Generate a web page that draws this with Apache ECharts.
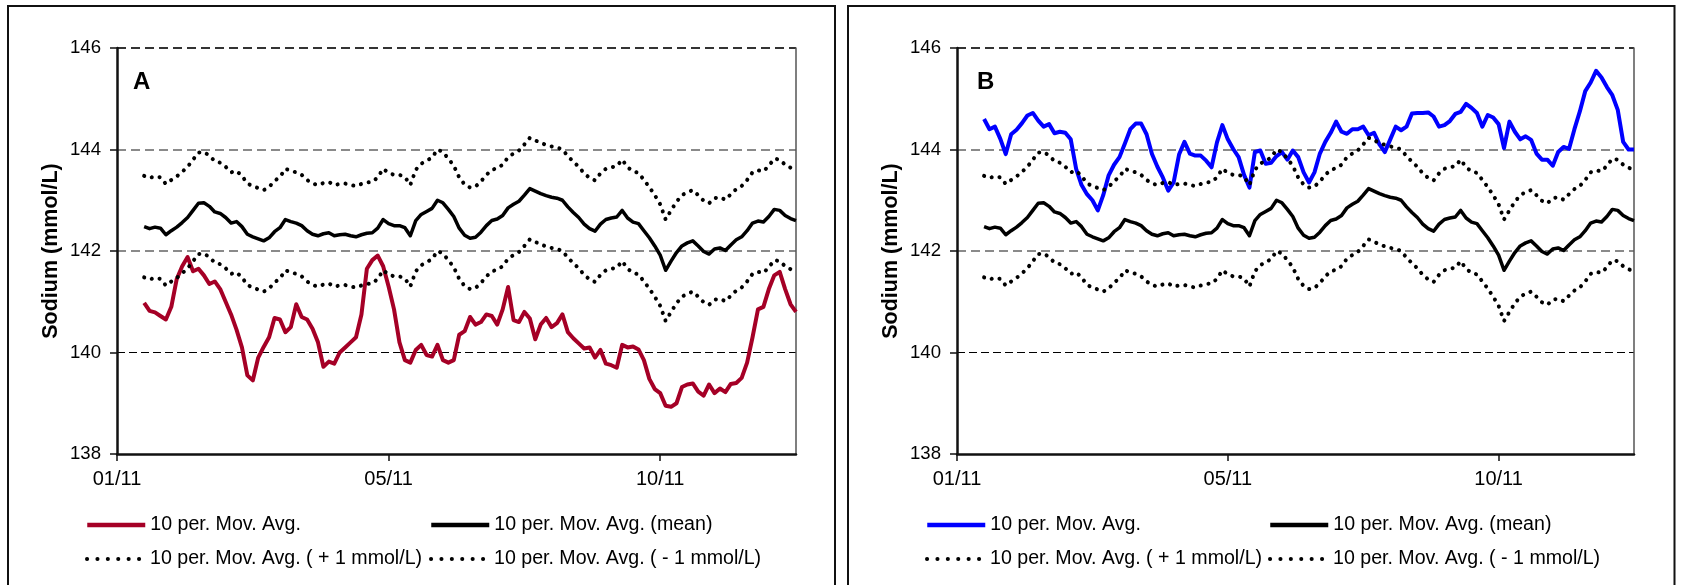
<!DOCTYPE html>
<html>
<head>
<meta charset="utf-8">
<script src="https://cdn.jsdelivr.net/npm/echarts@6/dist/echarts.min.js"></script>
<style>
html, body { margin: 0; padding: 0; background: #ffffff; }
#chart { width: 1681px; height: 585px; }
</style>
</head>
<body>
<div id="chart"></div>
<script>
// ---------- data ----------
const sampleCount = 126;
const categories = Array.from({ length: sampleCount }, (_, i) => 'S' + i);
const xTickLabels = { 0: '01/11', 50: '05/11', 100: '10/11' };
const yMin = 138, yMax = 146, yStep = 2;

const legendLabels = [
  '10 per. Mov. Avg.',
  '10 per. Mov. Avg. (mean)',
  '10 per. Mov. Avg. ( + 1 mmol/L)',
  '10 per. Mov. Avg. ( - 1 mmol/L)'
];
const panelLetters = ['A', 'B'];
const yTitle = 'Sodium (mmol/L)';

const meanValues = [null, null, null, null, null,
  142.48, 142.44, 142.47, 142.45, 142.32, 142.40, 142.47, 142.56, 142.66, 142.80,
  142.94, 142.95, 142.88, 142.77, 142.74, 142.66, 142.55, 142.58, 142.48, 142.33,
  142.28, 142.24, 142.20, 142.26, 142.38, 142.46, 142.62, 142.58, 142.55, 142.50,
  142.40, 142.33, 142.30, 142.34, 142.36, 142.30, 142.32, 142.33, 142.30, 142.28,
  142.32, 142.35, 142.36, 142.45, 142.62, 142.54, 142.50, 142.50, 142.46, 142.30,
  142.60, 142.72, 142.78, 142.84, 143.00, 142.95, 142.82, 142.68, 142.45, 142.31,
  142.25, 142.27, 142.37, 142.50, 142.60, 142.63, 142.70, 142.85, 142.92, 142.98,
  143.10, 143.23, 143.18, 143.13, 143.09, 143.06, 143.04, 143.00, 142.87, 142.76,
  142.66, 142.53, 142.44, 142.39, 142.53, 142.62, 142.65, 142.67, 142.80, 142.65,
  142.57, 142.54, 142.40, 142.26, 142.10, 141.92, 141.62, 141.80, 141.97, 142.10,
  142.16, 142.20, 142.10, 141.99, 141.94, 142.04, 142.06, 142.01, 142.12, 142.22,
  142.28, 142.40, 142.55, 142.59, 142.57, 142.68, 142.82, 142.80, 142.70, 142.64, 142.60];

const plusValues = [null, null, null, null, null,
  143.48, 143.44, 143.47, 143.45, 143.32, 143.40, 143.47, 143.56, 143.66, 143.80,
  143.94, 143.95, 143.88, 143.77, 143.74, 143.66, 143.55, 143.58, 143.48, 143.33,
  143.28, 143.24, 143.20, 143.26, 143.38, 143.46, 143.62, 143.58, 143.55, 143.50,
  143.40, 143.33, 143.30, 143.34, 143.36, 143.30, 143.32, 143.33, 143.30, 143.28,
  143.32, 143.35, 143.36, 143.45, 143.62, 143.54, 143.50, 143.50, 143.46, 143.30,
  143.60, 143.72, 143.78, 143.84, 144.00, 143.95, 143.82, 143.68, 143.45, 143.31,
  143.25, 143.27, 143.37, 143.50, 143.60, 143.63, 143.70, 143.85, 143.92, 143.98,
  144.10, 144.23, 144.18, 144.13, 144.09, 144.06, 144.04, 144.00, 143.87, 143.76,
  143.66, 143.53, 143.44, 143.39, 143.53, 143.62, 143.65, 143.67, 143.80, 143.65,
  143.57, 143.54, 143.40, 143.26, 143.10, 142.92, 142.62, 142.80, 142.97, 143.10,
  143.16, 143.20, 143.10, 142.99, 142.94, 143.04, 143.06, 143.01, 143.12, 143.22,
  143.28, 143.40, 143.55, 143.59, 143.57, 143.68, 143.82, 143.80, 143.70, 143.64, 143.60];

const minusValues = [null, null, null, null, null,
  141.48, 141.44, 141.47, 141.45, 141.32, 141.40, 141.47, 141.56, 141.66, 141.80,
  141.94, 141.95, 141.88, 141.77, 141.74, 141.66, 141.55, 141.58, 141.48, 141.33,
  141.28, 141.24, 141.20, 141.26, 141.38, 141.46, 141.62, 141.58, 141.55, 141.50,
  141.40, 141.33, 141.30, 141.34, 141.36, 141.30, 141.32, 141.33, 141.30, 141.28,
  141.32, 141.35, 141.36, 141.45, 141.62, 141.54, 141.50, 141.50, 141.46, 141.30,
  141.60, 141.72, 141.78, 141.84, 142.00, 141.95, 141.82, 141.68, 141.45, 141.31,
  141.25, 141.27, 141.37, 141.50, 141.60, 141.63, 141.70, 141.85, 141.92, 141.98,
  142.10, 142.23, 142.18, 142.13, 142.09, 142.06, 142.04, 142.00, 141.87, 141.76,
  141.66, 141.53, 141.44, 141.39, 141.53, 141.62, 141.65, 141.67, 141.80, 141.65,
  141.57, 141.54, 141.40, 141.26, 141.10, 140.92, 140.62, 140.80, 140.97, 141.10,
  141.16, 141.20, 141.10, 140.99, 140.94, 141.04, 141.06, 141.01, 141.12, 141.22,
  141.28, 141.40, 141.55, 141.59, 141.57, 141.68, 141.82, 141.80, 141.70, 141.64, 141.60];

const avgA = [null, null, null, null, null,
  140.98, 140.82, 140.79, 140.72, 140.65, 140.90, 141.45, 141.70, 141.88, 141.60,
  141.65, 141.52, 141.35, 141.40, 141.25, 141.00, 140.75, 140.45, 140.10, 139.55,
  139.45, 139.90, 140.11, 140.30, 140.68, 140.65, 140.40, 140.50, 140.95, 140.70,
  140.65, 140.47, 140.20, 139.72, 139.82, 139.78, 140.00, 140.10, 140.20, 140.30,
  140.75, 141.65, 141.82, 141.91, 141.70, 141.30, 140.85, 140.20, 139.85, 139.80,
  140.05, 140.15, 139.95, 139.92, 140.15, 139.85, 139.80, 139.85, 140.35, 140.42,
  140.70, 140.55, 140.60, 140.75, 140.72, 140.55, 140.85, 141.29, 140.64, 140.60,
  140.80, 140.67, 140.26, 140.55, 140.68, 140.50, 140.58, 140.75, 140.40, 140.28,
  140.18, 140.08, 140.10, 139.90, 140.05, 139.78, 139.75, 139.70, 140.15, 140.10,
  140.12, 140.06, 139.85, 139.48, 139.28, 139.20, 138.95, 138.93, 139.00, 139.32,
  139.37, 139.39, 139.23, 139.15, 139.37, 139.20, 139.29, 139.22, 139.38, 139.40,
  139.50, 139.80, 140.30, 140.85, 140.90, 141.25, 141.52, 141.59, 141.25, 140.95, 140.80];

const avgB = [null, null, null, null, null,
  144.60, 144.40, 144.45, 144.21, 143.91, 144.30, 144.39, 144.52, 144.67, 144.72,
  144.57, 144.45, 144.50, 144.32, 144.35, 144.33, 144.20, 143.62, 143.30, 143.12,
  143.00, 142.80, 143.10, 143.49, 143.70, 143.85, 144.12, 144.40, 144.51, 144.51,
  144.30, 143.91, 143.66, 143.45, 143.19, 143.35, 143.90, 144.15, 143.92, 143.88,
  143.88, 143.78, 143.65, 144.14, 144.48, 144.20, 144.01, 143.85, 143.50, 143.25,
  143.95, 143.98, 143.72, 143.74, 143.87, 143.95, 143.80, 143.98, 143.85, 143.55,
  143.35, 143.55, 143.92, 144.15, 144.33, 144.55, 144.35, 144.31, 144.40, 144.40,
  144.45, 144.28, 144.33, 144.10, 143.95, 144.20, 144.45, 144.38, 144.45, 144.71,
  144.72, 144.72, 144.73, 144.65, 144.45, 144.48, 144.56, 144.70, 144.74, 144.90,
  144.82, 144.72, 144.45, 144.68, 144.63, 144.50, 144.03, 144.55, 144.35, 144.20,
  144.26, 144.19, 143.92, 143.80, 143.80, 143.68, 143.95, 144.05, 144.01, 144.40,
  144.75, 145.15, 145.32, 145.55, 145.42, 145.23, 145.07, 144.78, 144.15, 144.00, 144.00];

const avgSeriesValues = [avgA, avgB];
const avgColors = ['#A50026', '#0000FF'];

// ---------- layout / style ----------
const FONT = 'Arial, "Liberation Sans", sans-serif';
const T = 'rgba(0,0,0,0)';
const panels = [
  { grid: { left: 117, top: 48, width: 679, height: 406 }, legendLeft: [85, 429], letterX: 133, titleX: 51, box: { x: 8, y: 6, width: 827, height: 600 } },
  { grid: { left: 957, top: 48, width: 677, height: 406 }, legendLeft: [925, 1268], letterX: 977, titleX: 891, box: { x: 848, y: 6, width: 826.5, height: 600 } }
];

const isTick = (idx) => xTickLabels[idx] !== undefined;

const grids = [], xAxes = [], yAxes = [], series = [], legends = [], graphics = [];
const dotStyle = { color: '#000', width: 4, type: [0.1, 7.9], cap: 'round', join: 'round' };

panels.forEach((p, k) => {
  const names = legendLabels.map((_, j) => panelLetters[k] + '#' + j);
  grids.push(p.grid);
  xAxes.push({
    type: 'category', gridIndex: k, data: categories, boundaryGap: false,
    axisLine: { show: true, lineStyle: { color: '#111', width: 2.5 } },
    axisTick: { show: true, interval: isTick, length: 7, lineStyle: { color: '#111', width: 1.5 } },
    axisLabel: { interval: isTick, formatter: (v, idx) => xTickLabels[idx] || '', fontFamily: FONT, fontSize: 20, color: '#000', margin: 15 },
    splitLine: { show: false }
  });
  yAxes.push({
    type: 'value', gridIndex: k, position: 'left', min: yMin, max: yMax, interval: yStep,
    axisLine: { show: true, lineStyle: { color: '#111', width: 2.5 } },
    axisTick: { show: true, length: 7, lineStyle: { color: '#111', width: 1.5 } },
    axisLabel: { fontFamily: FONT, fontSize: 18.6, color: '#000', margin: 16 },
    splitLine: { show: true, lineStyle: { color: [T, '#000', T, T, T], width: 1, type: [8, 4] } }
  });
  yAxes.push({
    type: 'value', gridIndex: k, position: 'right', min: yMin, max: yMax, interval: yStep,
    axisLine: { show: true, lineStyle: { color: '#555', width: 1.5 } },
    axisTick: { show: false }, axisLabel: { show: false },
    splitLine: { show: true, lineStyle: { color: [T, T, '#8a8a8a', '#8a8a8a', '#333'], width: 2, type: [9, 5] } }
  });
  const common = { type: 'line', xAxisIndex: k, yAxisIndex: 2 * k, symbol: 'none', silent: true, animation: false, connectNulls: false };
  series.push(Object.assign({}, common, { name: names[0], data: avgSeriesValues[k], lineStyle: { color: avgColors[k], width: 4, join: 'round' }, itemStyle: { color: avgColors[k] } }));
  series.push(Object.assign({}, common, { name: names[1], data: meanValues, lineStyle: { color: '#000', width: 3.5, join: 'round' }, itemStyle: { color: '#000' } }));
  series.push(Object.assign({}, common, { name: names[2], data: plusValues, lineStyle: dotStyle, itemStyle: { color: '#000' } }));
  series.push(Object.assign({}, common, { name: names[3], data: minusValues, lineStyle: dotStyle, itemStyle: { color: '#000' } }));

  const legendBase = {
    orient: 'horizontal', padding: 0, itemWidth: 58, itemHeight: 14, selectedMode: false,
    itemStyle: { opacity: 0, borderWidth: 0 },
    textStyle: { fontFamily: FONT, fontSize: 19.6, color: '#000' },
    formatter: (n) => legendLabels[Number(n.split('#')[1])]
  };
  const solidLegend = { color: 'inherit', width: 4.5, type: 'solid' };
  const dotLegend = { color: '#000', width: 4, type: [0.1, 10.3], cap: 'round' };
  legends.push(Object.assign({}, legendBase, { left: p.legendLeft[0], top: 515, data: [names[0]], lineStyle: solidLegend }));
  legends.push(Object.assign({}, legendBase, { left: p.legendLeft[1], top: 515, data: [names[1]], lineStyle: solidLegend }));
  legends.push(Object.assign({}, legendBase, { left: p.legendLeft[0], top: 549, data: [names[2]], lineStyle: dotLegend }));
  legends.push(Object.assign({}, legendBase, { left: p.legendLeft[1], top: 549, data: [names[3]], lineStyle: dotLegend }));

  graphics.push({ type: 'rect', shape: p.box, style: { fill: null, stroke: '#111', lineWidth: 2 }, silent: true });
  graphics.push({ type: 'text', x: p.letterX, y: 82, style: { text: panelLetters[k], font: 'bold 24px ' + FONT, fill: '#000', align: 'left', verticalAlign: 'middle' }, silent: true });
  graphics.push({ type: 'text', x: p.titleX, y: 251, rotation: Math.PI / 2, style: { text: yTitle, font: 'bold 21.5px ' + FONT, fill: '#000', align: 'center', verticalAlign: 'middle' }, silent: true });
});

const chart = echarts.init(document.getElementById('chart'), null, { renderer: 'canvas' });
chart.setOption({
  backgroundColor: '#ffffff',
  animation: false,
  grid: grids,
  xAxis: xAxes,
  yAxis: yAxes,
  legend: legends,
  series: series,
  graphic: graphics
});
</script>
</body>
</html>
